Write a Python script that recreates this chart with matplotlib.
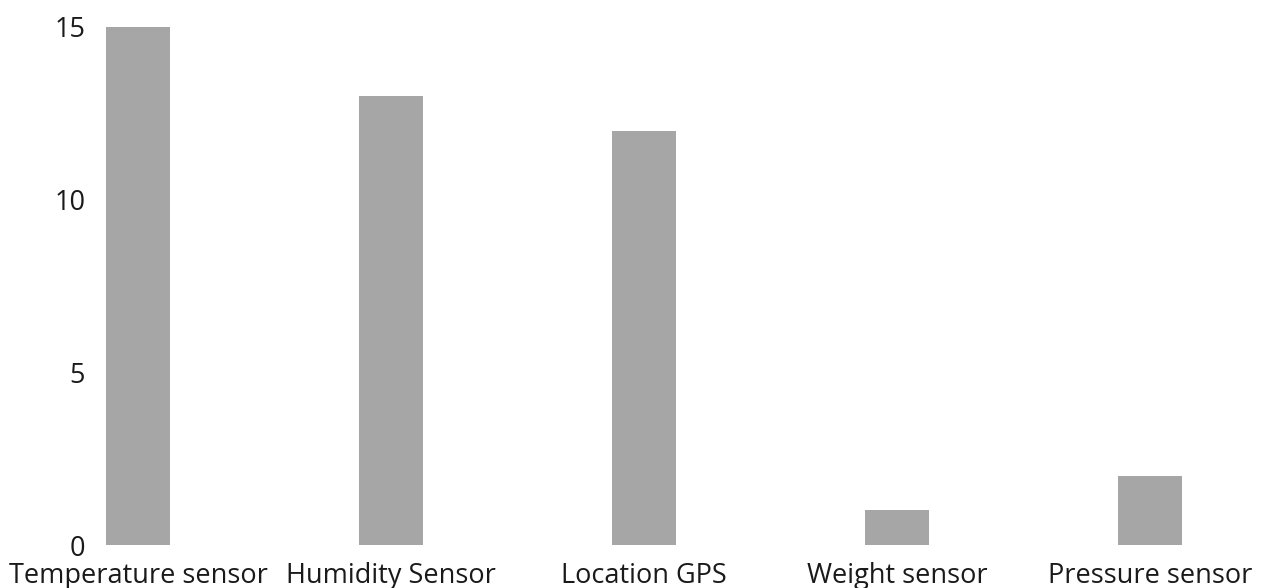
import matplotlib

matplotlib.use("Agg")
import matplotlib.pyplot as plt
import numpy as np

plt.rcParams["font.family"] = ["Open Sans", "DejaVu Sans"]

categories = ["Temperature sensor", "Humidity Sensor", "Location GPS",
              "Weight sensor", "Pressure sensor"]
counts = [15, 13, 12, 1, 2]
y_ticks = [0, 5, 10, 15]

W, H = 1268, 588
fig = plt.figure(figsize=(W / 100, H / 100), dpi=100)
# axes placed in pixel terms: left 95, right 1268, bottom 545, top 20
ax = fig.add_axes([95 / W, (H - 545) / H, (1268 - 95) / W, (545 - 20) / H])

x = np.arange(len(categories))
ax.bar(x, counts, width=0.25, color="#A6A6A6")

ax.set_xlim(-0.17, 4.466)
ax.set_ylim(0, 15.2)
ax.set_yticks(y_ticks)
ax.set_xticks(x)
ax.set_xticklabels(categories, fontsize=19.5, color="#1a1a1a")
ax.tick_params(axis="y", labelsize=19.5, colors="#1a1a1a", length=0, pad=7)
ax.tick_params(axis="x", length=0, pad=12)
for s in ax.spines.values():
    s.set_visible(False)

fig.savefig("out.png", dpi=100)
